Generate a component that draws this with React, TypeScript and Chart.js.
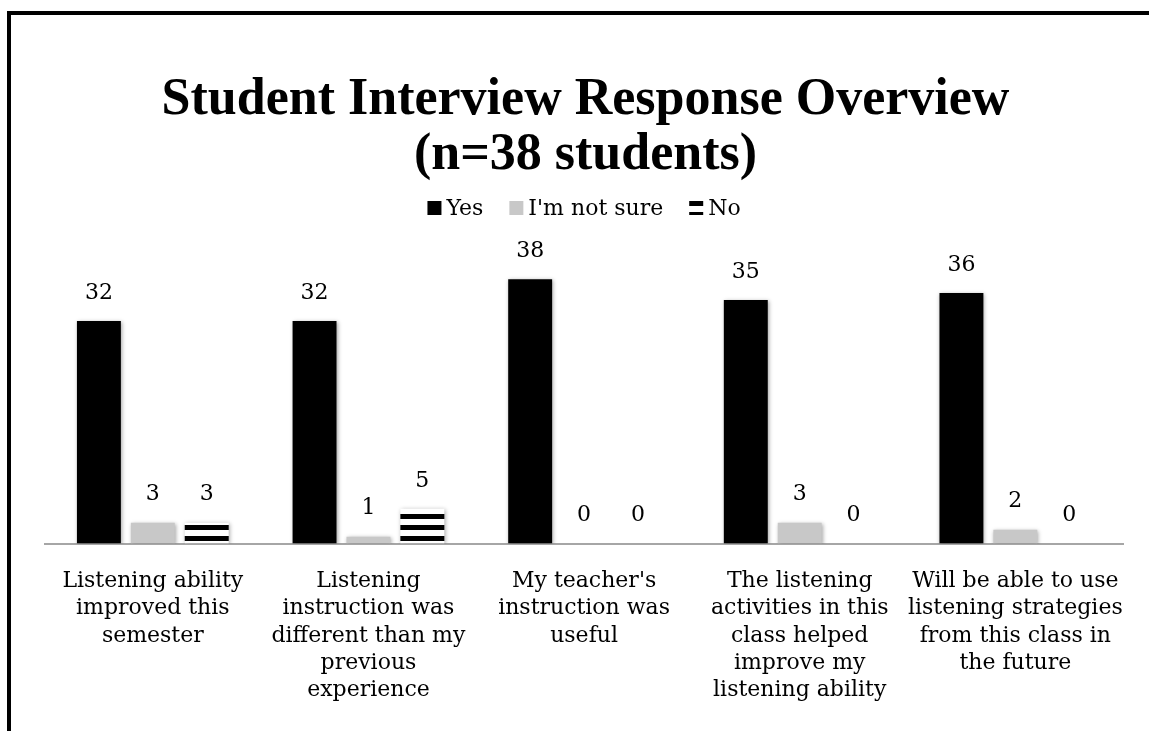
import React, { useEffect, useRef } from 'react';
import { Chart, registerables } from 'chart.js';

Chart.register(...registerables);

const categories: string[][] = [
  ['Listening ability', 'improved this', 'semester'],
  ['Listening', 'instruction was', 'different than my', 'previous', 'experience'],
  ["My teacher's", 'instruction was', 'useful'],
  ['The listening', 'activities in this', 'class helped', 'improve my', 'listening ability'],
  ['Will be able to use', 'listening strategies', 'from this class in', 'the future'],
];
const seriesNames = ['Yes', "I'm not sure", 'No'];
const yesValues = [32, 32, 38, 35, 36];
const notSureValues = [3, 1, 0, 3, 2];
const noValues = [3, 5, 0, 0, 0];
const titleLines = ['Student Interview Response Overview', '(n=38 students)'];

const TITLE_FONT = "'Liberation Serif', 'Times New Roman', serif";
const FONT = "'DejaVu Serif', 'Liberation Serif', serif";
const STRIPE_PERIOD = 11;
const STRIPE_BLACK = 5;
const STRIPE_START = 8;

function makeStripePattern(ctx: CanvasRenderingContext2D): CanvasPattern | string {
  const c = document.createElement('canvas');
  c.width = 8;
  c.height = STRIPE_PERIOD;
  const t = c.getContext('2d');
  if (!t) return '#000';
  t.fillStyle = '#ffffff';
  t.fillRect(0, 0, 8, STRIPE_PERIOD);
  t.fillStyle = '#000000';
  for (let i = 0; i < STRIPE_BLACK; i++) {
    const row = (STRIPE_START + i) % STRIPE_PERIOD;
    t.fillRect(0, row, 8, 1);
  }
  return ctx.createPattern(c, 'repeat') || '#000';
}

export default function App() {
  const ref = useRef<HTMLCanvasElement | null>(null);

  useEffect(() => {
    const canvas = ref.current;
    if (!canvas) return;
    const ctx = canvas.getContext('2d');
    if (!ctx) return;
    const stripe = makeStripePattern(ctx);
    const colors: (string | CanvasPattern)[] = ['#000000', '#c8c8c8', stripe];

    const shadowPlugin = {
      id: 'barShadow',
      beforeDatasetsDraw(chart: any) {
        const c = chart.ctx;
        c.save();
        c.shadowColor = 'rgba(0,0,0,0.35)';
        c.shadowBlur = 4;
        c.shadowOffsetX = 1;
        c.shadowOffsetY = 1;
      },
      afterDatasetsDraw(chart: any) {
        chart.ctx.restore();
      },
    };

    const valueLabels = {
      id: 'valueLabels',
      afterDatasetsDraw(chart: any) {
        const c = chart.ctx;
        c.save();
        c.shadowColor = 'transparent';
        c.font = `22px ${FONT}`;
        c.fillStyle = '#000';
        c.textAlign = 'center';
        c.textBaseline = 'middle';
        chart.data.datasets.forEach((ds: any, di: number) => {
          const meta = chart.getDatasetMeta(di);
          meta.data.forEach((el: any, i: number) => {
            c.fillText(String(ds.data[i]), el.x, el.y - 28);
          });
        });
        c.restore();
      },
    };

    const customLegend = {
      id: 'customLegend',
      afterDraw(chart: any) {
        const c = chart.ctx;
        c.save();
        c.font = `22px ${FONT}`;
        c.textBaseline = 'middle';
        c.textAlign = 'left';
        const box = 14;
        const gap = 5;
        const spacing = 26;
        const items = chart.data.datasets.map((ds: any) => ({
          label: ds.label,
          color: ds.backgroundColor,
          w: box + gap + c.measureText(ds.label).width,
        }));
        const total = items.reduce((s: number, it: any) => s + it.w, 0) + spacing * (items.length - 1);
        const area = chart.chartArea;
        let x = (area.left + area.right) / 2 - total / 2;
        const cy = 208;
        items.forEach((it: any) => {
          const yb = Math.round(cy - box / 2);
          c.save();
          if (typeof it.color === 'string') {
            c.fillStyle = it.color;
            c.fillRect(x, yb, box, box);
          } else {
            const dy = (((yb - STRIPE_START) % STRIPE_PERIOD) + STRIPE_PERIOD) % STRIPE_PERIOD;
            c.translate(0, dy);
            c.fillStyle = it.color;
            c.fillRect(x, yb - dy, box, box);
          }
          c.restore();
          c.fillStyle = '#000';
          c.fillText(it.label, x + box + gap, cy + 1);
          x += it.w + spacing;
        });
        c.restore();
      },
    };

    const chart = new Chart(canvas, {
      type: 'bar',
      data: {
        labels: categories,
        datasets: [
          { label: seriesNames[0], data: yesValues, backgroundColor: colors[0] as any },
          { label: seriesNames[1], data: notSureValues, backgroundColor: colors[1] as any },
          { label: seriesNames[2], data: noValues, backgroundColor: colors[2] as any },
        ],
      },
      options: {
        responsive: false,
        animation: false,
        devicePixelRatio: 1,
        layout: { padding: { left: 45, right: 23, top: 0, bottom: 3 } },
        datasets: {
          bar: { categoryPercentage: 0.75, barPercentage: 0.815 },
        },
        scales: {
          x: {
            grid: { display: false, drawTicks: false },
            border: { display: true, color: '#a6a6a6', width: 2 },
            ticks: {
              color: '#000',
              padding: 24,
              maxRotation: 0,
              autoSkip: false,
              font: { family: FONT, size: 22, lineHeight: 1.24 },
            },
          },
          y: {
            display: false,
            min: 0,
            max: 45,
          },
        },
        plugins: {
          legend: { display: false },
          tooltip: { enabled: false },
          title: {
            display: true,
            text: titleLines,
            color: '#000',
            font: { family: TITLE_FONT, size: 52, weight: 'bold', lineHeight: 1.06 },
            padding: { top: 73, bottom: 47.2 },
          },
        },
      },
      plugins: [shadowPlugin, valueLabels, customLegend],
    });
    return () => chart.destroy();
  }, []);

  return (
    <div style={{ position: 'fixed', left: 0, top: 0, width: 1149, height: 731, overflow: 'hidden', background: '#fff' }}>
      <canvas ref={ref} width={1149} height={731} style={{ position: 'absolute', left: 0, top: 0, width: 1149, height: 731 }} />
      <div
        style={{
          position: 'absolute',
          left: 7,
          top: 11,
          width: 1400,
          height: 1000,
          borderLeft: '4px solid #000',
          borderTop: '4px solid #000',
          pointerEvents: 'none',
        }}
      />
    </div>
  );
}
